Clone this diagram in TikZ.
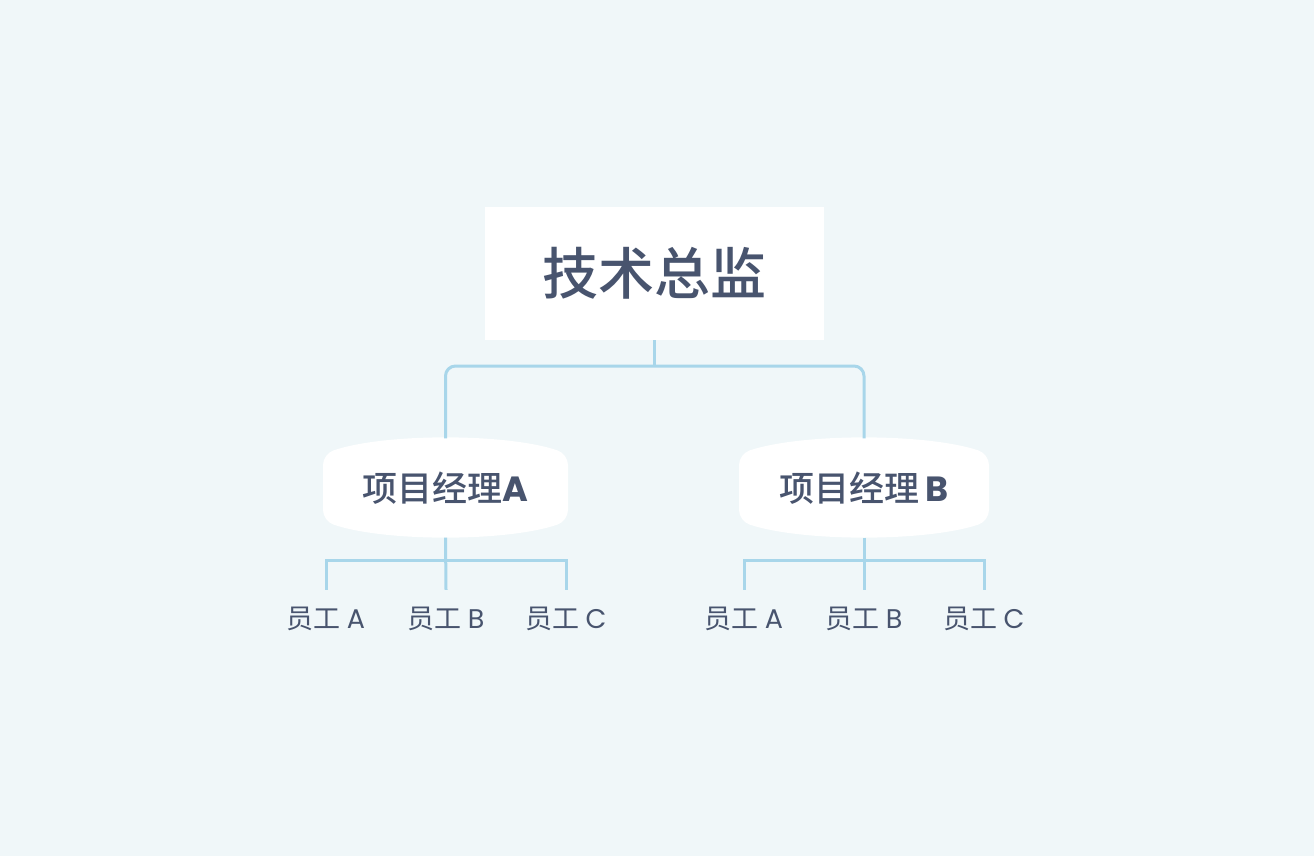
\documentclass[tikz,border=0pt]{standalone}
\usepackage{fontspec}
\setmainfont{Noto Sans CJK SC}[BoldFont={Noto Sans CJK SC Medium}]
\newfontfamily\latfont{Poppins}
\usetikzlibrary{backgrounds}
\definecolor{bgcol}{RGB}{240,247,249}
\definecolor{linkcol}{RGB}{168,214,234}
\definecolor{txtcol}{RGB}{72,84,110}
\tikzstyle{every node}=[text=txtcol, inner sep=0pt]
\tikzstyle{link}=[line width=3pt, linkcol]
\tikzstyle{topbox}=[fill=white, minimum width=339pt, minimum height=133pt, font=\fontsize{56}{60}\selectfont\bfseries]
\tikzstyle{mgr}=[minimum width=245pt, minimum height=99pt, font=\fontsize{35}{40}\selectfont\bfseries]
\tikzstyle{staff}=[minimum height=58pt, font=\fontsize{27}{30}\selectfont]
% #1 node, #2 half width
\newcommand\mgrshape[2]{%
  \fill[white, rounded corners=11pt, shift={(#1.center)}]
    (-#2,0) -- (-#2,-34) .. controls (-0.5*#2,-55) and (0.5*#2,-55) .. (#2,-34)
    -- (#2,33) .. controls (0.5*#2,54) and (-0.5*#2,54) .. (-#2,33) -- cycle;}

\begin{document}
\begin{tikzpicture}[x=1pt, y=-1pt]
    \useasboundingbox (0,0) rectangle (1314,856);

% Boxes
    \node[topbox] (dir) at (654.5,273.5) {技术总监};
    \node[mgr] (pmA) at (445.5,488) {项目经理{\latfont\bfseries A}};
    \node[mgr] (pmB) at (864,488) {项目经理\,{\latfont\bfseries B}};

% Staff
    \node[staff] (eA1) at (326,619) {员工 {\latfont A}};
    \node[staff] (eA2) at (446,619) {员工 {\latfont B}};
    \node[staff] (eA3) at (566,619) {员工 {\latfont C}};
    \node[staff] (eB1) at (744,619) {员工 {\latfont A}};
    \node[staff] (eB2) at (864,619) {员工 {\latfont B}};
    \node[staff] (eB3) at (984,619) {员工 {\latfont C}};

% Links
    \coordinate (j) at (654.5,366);
    \draw[link] (dir.south) -- (j);
    \draw[link, rounded corners=10pt] (pmA.north) |- (j) -| (pmB.north);
    \draw[link] (eA1.north) -- ++(0,-29) -| (eA3.north);
    \draw[link] (pmA.south) -- (eA2.north);
    \draw[link] (eB1.north) -- ++(0,-29) -| (eB3.north);
    \draw[link] (pmB.south) -- (eB2.north);

% Background
    \begin{scope}[on background layer]
        \fill[bgcol] (0,0) rectangle (1314,856);
        \mgrshape{pmA}{122.5}
        \mgrshape{pmB}{125}
    \end{scope}
\end{tikzpicture}
\end{document}
